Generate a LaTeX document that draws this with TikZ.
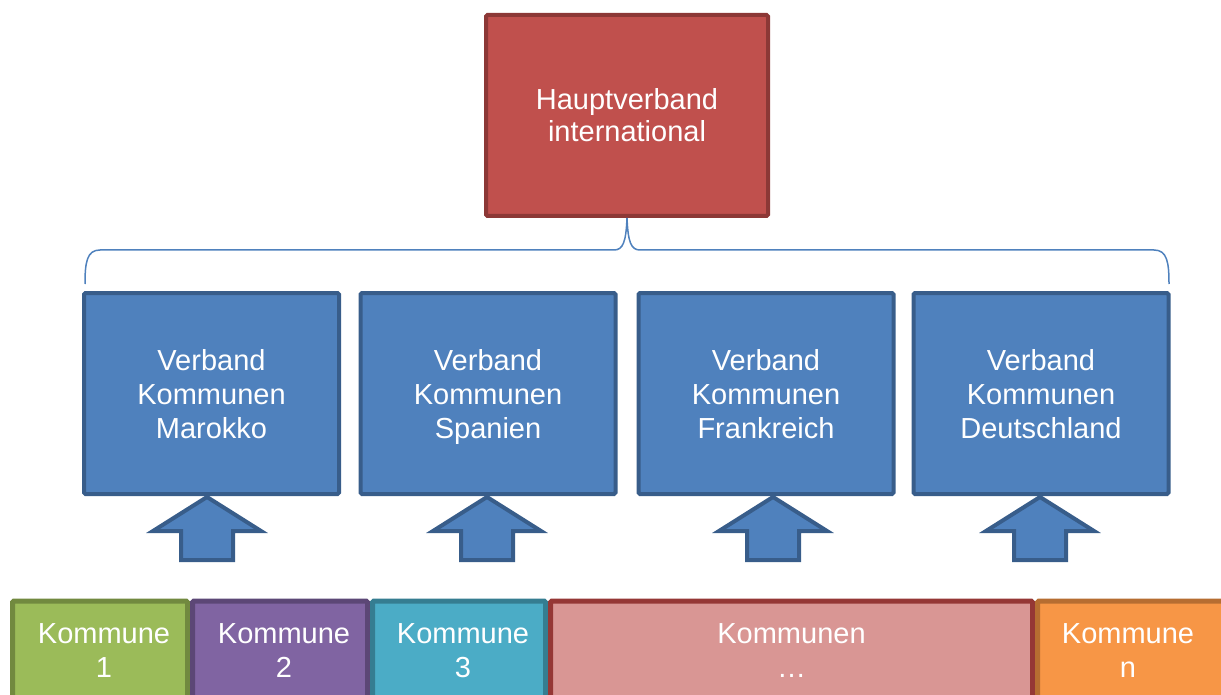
\documentclass[tikz,border=0pt]{standalone}
\usepackage{fontspec}
\setmainfont{Liberation Sans}
\definecolor{redfill}{HTML}{C0504D}
\definecolor{redline}{HTML}{8C3836}
\definecolor{bluefill}{HTML}{4F81BD}
\definecolor{blueline}{HTML}{385D8A}
\definecolor{grfill}{HTML}{9BBB59}
\definecolor{grline}{HTML}{71893F}
\definecolor{pufill}{HTML}{8064A2}
\definecolor{puline}{HTML}{5C4776}
\definecolor{tefill}{HTML}{4BACC6}
\definecolor{teline}{HTML}{357D91}
\definecolor{pkfill}{HTML}{D99694}
\definecolor{pkline}{HTML}{953735}
\definecolor{orfill}{HTML}{F79646}
\definecolor{orline}{HTML}{B66D31}
\newcommand\upstr[1]{\rule{0pt}{#1}}
\begin{document}
\begin{tikzpicture}[x=1pt,y=-1pt,
  boxbase/.style={draw,line width=4pt,rounded corners=1.5pt,align=center,text=white,inner sep=0pt},
  topbox/.style={boxbase,fill=redfill,draw=redline,minimum width=282pt,minimum height=201pt,font=\fontsize{29}{32}\selectfont},
  vbox/.style={boxbase,fill=bluefill,draw=blueline,minimum width=255pt,minimum height=201pt,font=\fontsize{29}{34}\selectfont},
  kbox/.style={boxbase,line width=5pt,minimum height=99pt,font=\fontsize{29}{34}\selectfont},
  brace/.style={draw=bluefill,line width=1.5pt},
  uparrow/.style={fill=bluefill,draw=blueline,line width=4pt,miter limit=10}
]
\useasboundingbox (0,0) rectangle (1221,695);
\clip (0,0) rectangle (1221,695);

\node[topbox] (top) at (627,115.5) {\upstr{30.4pt}Hauptverband\\international\strut};

\node[vbox] (v1) at (211.5,393.5) {\upstr{31.8pt}Verband\\Kommunen\\Marokko\strut};
\node[vbox] (v2) at (488,393.5) {\upstr{31.8pt}Verband\\Kommunen\\Spanien\strut};
\node[vbox] (v3) at (766,393.5) {\upstr{31.8pt}Verband\\Kommunen\\Frankreich\strut};
\node[vbox] (v4) at (1041,393.5) {\upstr{31.8pt}Verband\\Kommunen\\Deutschland\strut};

% brace
\coordinate (bl) at (85,284);
\coordinate (br) at (1169,284);
\draw[brace] (bl) .. controls (85,262) and (87,250) .. (100,250) -- (614,250)
  .. controls (623,250) and (626,242) .. (top.south)
  .. controls (628,242) and (631,250) .. (640,250) -- (1154,250)
  .. controls (1167,250) and (1169,262) .. (br);

% block arrows
\foreach \i/\cx in {1/207,2/487,3/773,4/1040}{
  \coordinate (a\i) at (\cx,497);
  \draw[uparrow] (a\i) -- ++(54,34) -- ++(-28,0) -- ++(0,29) -- ++(-52,0) -- ++(0,-29) -- ++(-28,0) -- cycle;
}

% bottom communes
\node[kbox,fill=grfill,draw=grline,minimum width=175pt] (k1) at (100,650.5) {\hspace*{8pt}\upstr{29.8pt}Kommune\\\hspace*{8pt}1\strut};
\node[kbox,fill=pufill,draw=puline,minimum width=175pt] (k2) at (280,650.5) {\hspace*{8pt}\upstr{29.8pt}Kommune\\\hspace*{8pt}2\strut};
\node[kbox,fill=tefill,draw=teline,minimum width=173pt] (k3) at (459,650.5) {\hspace*{8pt}\upstr{29.8pt}Kommune\\\hspace*{8pt}3\strut};
\node[kbox,fill=pkfill,draw=pkline,minimum width=482pt] (k4) at (791.5,650.5) {\upstr{29.8pt}Kommunen\\…\strut};
\node[kbox,fill=orfill,draw=orline,minimum width=190pt] (k5) at (1132.5,650.5) {\hspace*{-9pt}\upstr{29.8pt}Kommune\\\hspace*{-9pt}n\strut};
\end{tikzpicture}
\end{document}
